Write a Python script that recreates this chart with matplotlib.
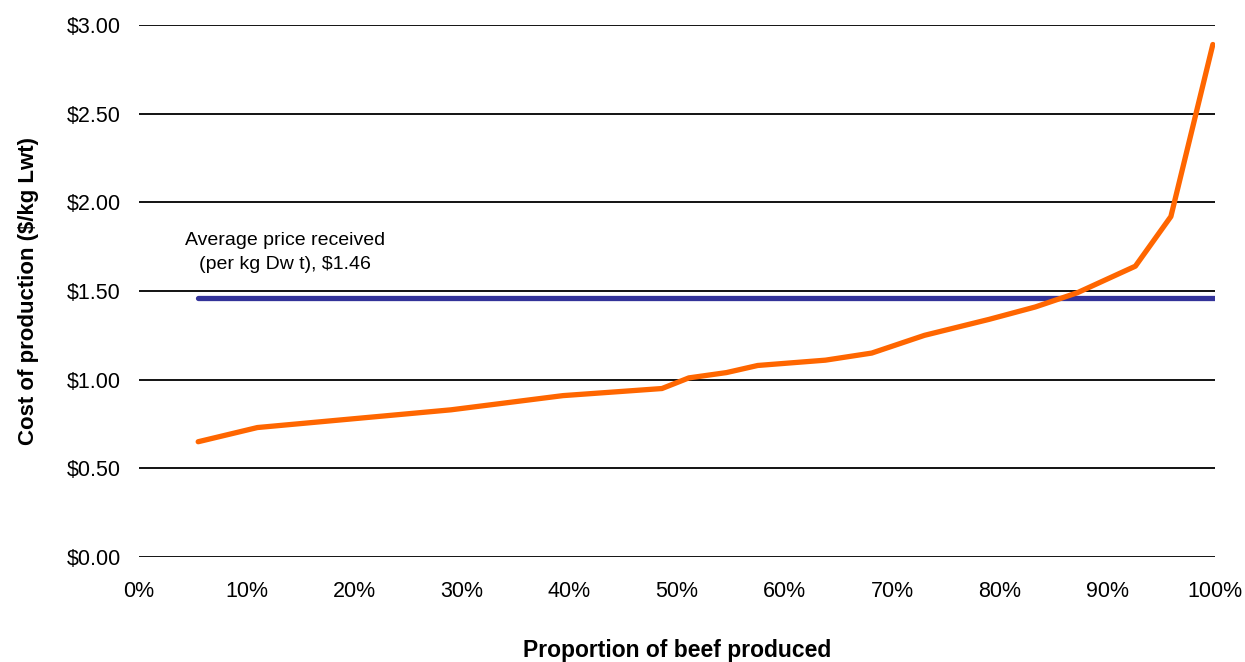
import matplotlib
matplotlib.use("Agg")
import matplotlib.pyplot as plt
from matplotlib.ticker import FuncFormatter

plt.rcParams['font.family'] = ['Liberation Sans', 'DejaVu Sans']

# Cumulative share of beef produced (%) and cost of production ($/kg Lwt)
proportion = [5.5, 11.0, 20.0, 29.0, 39.4, 48.6, 51.1, 54.6, 57.5, 63.8,
              68.1, 73.0, 79.0, 83.3, 87.2, 92.6, 95.9, 99.8]
cost = [0.65, 0.73, 0.78, 0.83, 0.91, 0.95, 1.01, 1.04, 1.08, 1.11,
        1.15, 1.25, 1.34, 1.41, 1.49, 1.64, 1.92, 2.89]

avg_price = 1.46
avg_price_span = [5.5, 100.0]
avg_label = "Average price received\n(per kg Dw t), $1.46"

y_ticks = [0.0, 0.5, 1.0, 1.5, 2.0, 2.5, 3.0]
x_ticks = list(range(0, 101, 10))

W, H = 1245, 662
fig = plt.figure(figsize=(W / 100, H / 100), dpi=100)
ax = fig.add_axes([139 / W, 1 - 557 / H, (1215 - 139) / W, (557 - 25) / H])

ax.set_xlim(0, 100)
ax.set_ylim(0, 3.0)
ax.set_yticks(y_ticks)
ax.set_xticks(x_ticks)
ax.yaxis.set_major_formatter(FuncFormatter(lambda v, _: f"${v:.2f}"))
ax.xaxis.set_major_formatter(FuncFormatter(lambda v, _: f"{v:.0f}%"))

ax.grid(axis='y', color='black', linewidth=1.3, zorder=1)
ax.set_axisbelow(True)
for s in ax.spines.values():
    s.set_visible(False)
ax.tick_params(axis='both', length=0, labelsize=15.5)
ax.tick_params(axis='y', pad=13)
ax.tick_params(axis='x', pad=17)

ax.plot(avg_price_span, [avg_price, avg_price], color='#333399',
        linewidth=3.8, solid_capstyle='round', zorder=3)
ax.plot(proportion, cost, color='#FF6600', linewidth=3.8,
        solid_capstyle='round', solid_joinstyle='round', zorder=4)

ax.text(13.6, 1.715, avg_label, ha='center', va='center', fontsize=14,
        linespacing=1.55)

ax.set_ylabel("Cost of production ($/kg Lwt)", fontsize=16, fontweight='bold',
              labelpad=20)
ax.set_xlabel("Proportion of beef produced", fontsize=16.5, fontweight='bold',
              labelpad=27)

fig.savefig("out.png", dpi=100)
